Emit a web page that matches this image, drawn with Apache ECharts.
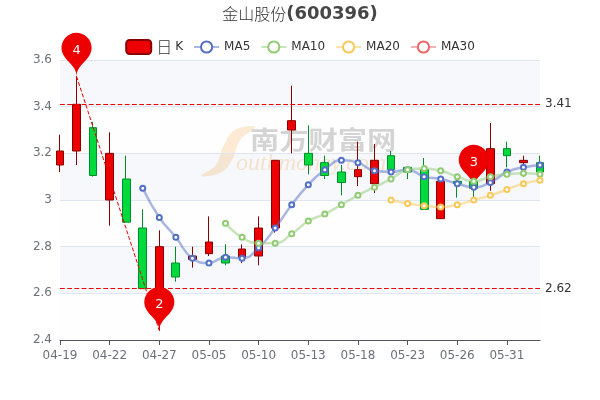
<!DOCTYPE html>
<html><head><meta charset="utf-8">
<style>html,body{margin:0;padding:0;background:#fff}#c{width:600px;height:400px}</style>
<script src="https://cdn.jsdelivr.net/npm/echarts@6/dist/echarts.min.js"></script>
</head><body><div id="c"></div>
<script>
const dates=['04-19','04-20','04-21','04-22','04-25','04-26','04-27','04-28','04-29','05-05','05-06','05-09','05-10','05-11','05-12','05-13','05-16','05-17','05-18','05-19','05-20','05-23','05-24','05-25','05-26','05-27','05-30','05-31','06-01','06-02'];
// open, close, low, high
const opens=[3.15,3.21,3.31,3.0,3.09,2.88,2.62,2.73,2.745,2.77,2.76,2.755,2.76,2.88,3.30,3.20,3.16,3.12,3.10,3.07,3.19,3.14,3.13,2.92,3.08,3.08,3.07,3.22,3.16,3.16];
const closes=[3.21,3.41,3.105,3.2,2.905,2.62,2.8,2.67,2.76,2.82,2.73,2.79,2.88,3.17,3.34,3.15,3.105,3.075,3.13,3.17,3.13,3.12,2.96,3.08,3.07,3.05,3.22,3.19,3.17,3.12];
const lows=[3.12,3.15,3.10,2.89,2.905,2.62,2.44,2.65,2.71,2.76,2.72,2.73,2.72,2.86,3.20,3.11,3.09,3.02,3.06,3.03,3.12,3.09,2.96,2.92,3.01,2.99,3.04,3.14,3.10,3.10];
const highs=[3.28,3.53,3.335,3.29,3.19,2.96,2.87,2.80,2.80,2.93,2.81,2.81,2.93,3.17,3.49,3.32,3.19,3.15,3.25,3.24,3.21,3.14,3.18,3.09,3.10,3.10,3.33,3.25,3.19,3.19];
const ma5=[null,null,null,null,null,3.05,2.925,2.84,2.75,2.73,2.755,2.75,2.795,2.88,2.98,3.065,3.13,3.17,3.16,3.125,3.12,3.13,3.10,3.09,3.07,3.055,3.075,3.12,3.14,3.15];
const ma10=[null,null,null,null,null,null,null,null,null,null,2.90,2.84,2.815,2.815,2.855,2.91,2.94,2.98,3.02,3.055,3.09,3.13,3.135,3.125,3.10,3.08,3.10,3.11,3.115,3.11];
const ma20=[null,null,null,null,null,null,null,null,null,null,null,null,null,null,null,null,null,null,null,null,3.0,2.985,2.975,2.97,2.98,3.0,3.02,3.045,3.07,3.085];
const ma30=[];
const pins=[['4','04-20',3.53],['2','04-27',2.44],['3','05-27',3.05]];
const levels=[3.41,2.62];
const candle=dates.map((d,i)=>[opens[i],closes[i],lows[i],highs[i]]);
const ma=(name,data,color)=>({name,type:'line',data,smooth:true,symbol:'emptyCircle',symbolSize:5,itemStyle:{color},lineStyle:{color,opacity:0.5,width:2.5},z:6});
const chart=echarts.init(document.getElementById('c'),null,{renderer:'canvas'});
chart.setOption({
 animation:false,
 title:{text:'{a|金山股份}{b|(600396)}',left:'center',top:0,textStyle:{rich:{
   a:{fontSize:16,fontWeight:300,color:'#333',fontFamily:'Noto Sans CJK SC'},
   b:{fontSize:18,fontWeight:'bold',color:'#464646',fontFamily:'DejaVu Sans'}}}},
 legend:{data:['日K','MA5','MA10','MA20','MA30'],top:34,itemGap:10,
   formatter:n=>n==='日K'?'{c|日}{k|K}':n,
   textStyle:{fontSize:12,color:'#333',fontFamily:'DejaVu Sans',rich:{
     c:{fontSize:16,color:'#333',fontFamily:'Noto Sans CJK SC',fontWeight:300},
     k:{fontSize:12,color:'#333',fontFamily:'DejaVu Sans',padding:[0,0,0,3]}}}},
 grid:{left:60,right:60,top:60,bottom:60},
 graphic:[
  {type:'polygon',z:-5,shape:{smooth:0.4,points:[[255,127],[235,130],[224,145],[216,165],[201,176],[222,172],[233,158],[240,140]]},style:{fill:'rgba(250,205,150,0.5)'}},
  {type:'text',z:-5,x:250,y:127,scaleX:1.17,style:{text:'南方财富网',fontSize:25,fontWeight:'bold',fontFamily:'Noto Sans CJK SC',fill:'rgba(160,160,160,0.55)'}},
  {type:'text',z:-5,x:236,y:152,style:{text:'outhmoney.com',fontSize:24,fontStyle:'italic',fontFamily:'Liberation Serif',fill:'rgba(250,205,150,0.55)'}}
 ],
 xAxis:{type:'category',data:dates,boundaryGap:false,axisLabel:{interval:2,color:'#6E7079',fontSize:12,fontFamily:'DejaVu Sans',margin:10},axisTick:{interval:2},splitLine:{show:false}},
 yAxis:{type:'value',scale:true,min:2.4,max:3.6,interval:0.2,
   splitArea:{show:true,areaStyle:{color:['rgba(250,250,250,0.2)','rgba(210,219,238,0.2)']}},
   splitLine:{lineStyle:{color:'#E0E6F1'}},
   axisLabel:{color:'#6E7079',fontSize:12,fontFamily:'DejaVu Sans',padding:[4,0,0,0]},axisLine:{show:false},axisTick:{show:false}},
 series:[
  {name:'日K',type:'candlestick',data:candle,clip:false,
   itemStyle:{color:'#ec0000',color0:'#00da3c',borderColor:'#8A0000',borderColor0:'#008F28'},
   markPoint:{symbolSize:50,label:{color:'#fff',fontSize:13,fontFamily:'DejaVu Sans',fontWeight:'normal'},itemStyle:{color:'#ec0000'},
    data:pins.map(p=>({name:p[0],value:p[0],coord:[p[1],p[2]]}))},
   markLine:{symbol:'none',silent:true,
    label:{color:'#333',fontSize:12,fontFamily:'DejaVu Sans',position:'end'},
    lineStyle:{color:'#ec0000',type:'dashed',width:1.2},
    data:[...levels.map(v=>({yAxis:v,label:{formatter:String(v)}})),
     [{coord:[pins[0][1],pins[0][2]],lineStyle:{width:1,color:'#ec0000',type:'dashed'},label:{show:false}},{coord:[pins[1][1],pins[1][2]]}]]}
  },
  ma('MA5',ma5,'#5470c6'),ma('MA10',ma10,'#91cc75'),ma('MA20',ma20,'#fac858'),ma('MA30',ma30,'#ee6666')
 ]
});
</script></body></html>
